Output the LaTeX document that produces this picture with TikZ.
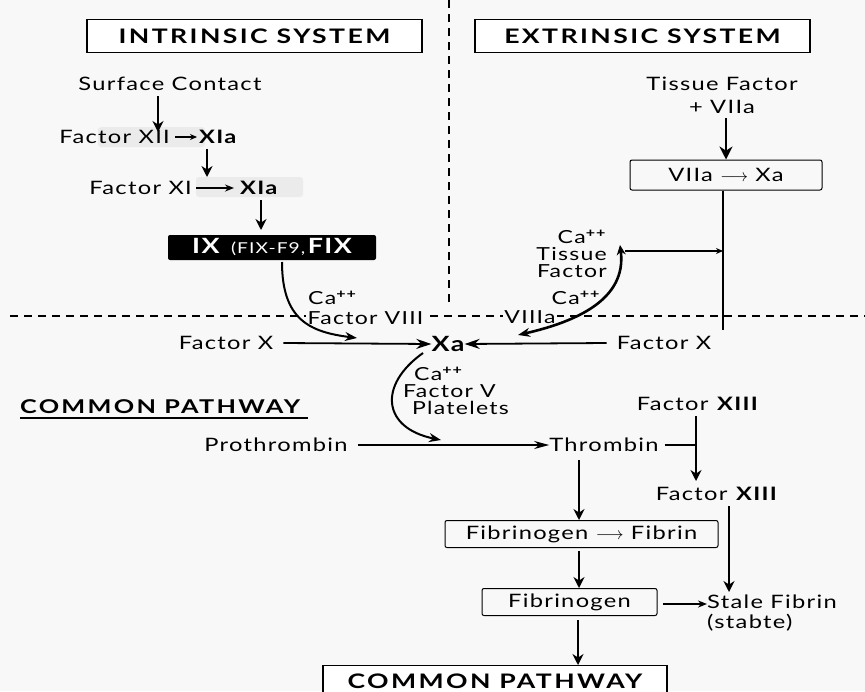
\documentclass[tikz,border=0pt]{standalone}
\usepackage{fontspec}
\setmainfont{Lato}[FakeStretch=1.28, LetterSpace=7]
\newfontfamily\ttlf{Lato}[FakeStretch=1.33, LetterSpace=12]
\usetikzlibrary{arrows.meta}
\newcommand{\capp}{Ca\textsuperscript{\textbf{++}}}
\begin{document}
\begin{tikzpicture}[x=1pt,y=-1pt,
  lbl/.style={inner sep=0pt, font=\fontsize{18.5}{20}\selectfont},
  sml/.style={inner sep=0pt, font=\fontsize{18}{17}\selectfont},
  ttl/.style={draw, line width=1.1pt, minimum width=335pt, minimum height=33pt, inner sep=0pt, font=\fontsize{20}{23}\ttlf\bfseries},
  boxn/.style={draw, line width=1pt, rounded corners=2pt, inner sep=0pt, font=\fontsize{18.5}{20}\selectfont},
  arr/.style={-{Stealth[length=11pt,width=11pt]}, line width=2.1pt},
  arrs/.style={-{Stealth[length=7pt,width=6pt]}, line width=1.3pt},
  harr/.style={-{Stealth[length=15pt,width=10pt]}, line width=1.8pt},
  ln/.style={line width=1.8pt},
  sepline/.style={dashed, dash pattern=on 8pt off 6pt, line width=1.2pt},
  hl/.style={fill=black!8, rounded corners=3pt},
  bgc/.style={fill=bg, inner sep=1.5pt}
]
\definecolor{bg}{HTML}{F8F8F8}
\useasboundingbox (0,0) rectangle (865,691);
\clip (0,0) rectangle (865,691);
\fill[bg] (0,0) rectangle (865,691);

% dashed separators
\coordinate (vd1) at (449,0);
\coordinate (vd2) at (449,305);
\coordinate (hd1) at (10,316);
\coordinate (hd2) at (865,316);
\draw[sepline] (vd1) -- (vd2);
\draw[sepline] (hd1) -- (hd2);

% titles
\node[ttl, fill=white] (intr) at (254.5,36) {INTRINSIC SYSTEM};
\node[ttl, fill=white] (extr) at (642.5,36) {EXTRINSIC SYSTEM};

% intrinsic
\node[lbl] (surf) at (170,84) {Surface Contact};
\fill[hl] (98,127) rectangle (205,147);
\node[lbl, anchor=east] (f12) at (170,137) {Factor XII};
\node[lbl, anchor=west, font=\fontsize{18.5}{20}\selectfont\bfseries] (x1a) at (199,137) {XIa};
\draw[arrs, shorten <=5pt, shorten >=2pt] (f12) -- (x1a);
\fill[hl] (196,177) rectangle (303,197);
\node[lbl, anchor=east] (f11) at (192,188) {Factor XI};
\node[lbl, anchor=west, font=\fontsize{18.5}{20}\selectfont\bfseries] (x1b) at (240,188) {XIa};
\draw[-{Stealth[length=9pt,width=7pt]}, line width=1.6pt, shorten <=4pt, shorten >=6pt] (f11) -- (x1b);
\node[fill=black, text=white, rounded corners=2pt, minimum width=208pt, minimum height=25pt, inner sep=0pt] (ix) at (272,247.5)
  {\fontsize{21}{22}\selectfont\bfseries IX\, \fontsize{15}{17}\selectfont\mdseries (FIX-F9,\,\fontsize{21}{22}\selectfont\bfseries FIX};

\coordinate (s1) at (158,96);
\coordinate (e1) at (158,132);
\draw[arr] (s1) -- (e1);
\coordinate (s2) at (207,149);
\coordinate (e2) at (207,177);
\draw[arr] (s2) -- (e2);
\coordinate (s3) at (261,200);
\coordinate (e3) at (261,230);
\draw[arr] (s3) -- (e3);

\node[sml, anchor=west] (ca1) at (308,298) {\capp};
\node[sml, anchor=west, bgc] (f8) at (306,318) {Factor VIII};

% extrinsic
\node[lbl, align=center, font=\fontsize{18.5}{23}\selectfont] (tf) at (722,95) {Tissue Factor\\+ VIIa};
\node[boxn, minimum width=192pt, minimum height=30pt] (v7) at (726,175) {VIIa $\longrightarrow$ Xa};
\coordinate (s4) at (726,118);
\draw[-{Stealth[length=13pt,width=13pt]}, line width=2.8pt] (s4) -- (v7.north);
\coordinate (vb) at (723,330);
\draw[ln] (v7.south -| vb) -- (vb);

\node[sml, align=right, anchor=east, font=\fontsize{18}{17}\selectfont] (tfl) at (607,254) {\capp\\Tissue\\Factor};
\node[sml, anchor=east] (ca2) at (601,298) {\capp};
\node[sml, bgc] (v8a) at (530,317) {VIIIa};

% common
\node[lbl] (fxl) at (226,343) {Factor X};
\node[lbl, font=\fontsize{21}{23}\selectfont\bfseries] (xa) at (448,344) {Xa};
\node[lbl] (fxr) at (664,343) {Factor X};
\draw[harr] (fxl.east) ++(10,0) -- (xa.west);
\draw[harr] (fxr.west) ++(-10,0) -- (xa.east);

% intrinsic curve into Xa
\coordinate (c1s) at (282,262);
\coordinate (c1e) at (357,338);
\draw[-{Stealth[length=12pt,width=9pt]}, line width=2pt] (c1s) .. controls (282,320) and (310,332) .. (c1e);

% extrinsic curve
\coordinate (c2s) at (620,245);
\coordinate (c2e) at (518,335);
\draw[{Stealth[length=10pt,width=9pt]}-{Stealth[length=12pt,width=9pt]}, line width=2.6pt] (c2s) .. controls (627,300) and (575,322) .. (c2e);
\coordinate (h2s) at (625,251);
\draw[arrs] (h2s) -- (h2s -| vb);

\node[lbl, anchor=west, font=\fontsize{19}{21}\ttlf\bfseries] (cp1) at (20,407) {COMMON PATHWAY};
\coordinate (ul1) at (20,418);
\coordinate (ul2) at (308,418);
\draw[line width=1.2pt] (ul1) -- (ul2);

\node[sml, align=left, anchor=west] (cfp) at (403,391) {\hspace*{11pt}\capp\\Factor V\\\hspace*{9pt}Platelets};

\node[lbl] (pro) at (276,445) {Prothrombin};
\node[lbl] (thr) at (604,445) {Thrombin};
\draw[-{Stealth[length=15pt,width=8pt]}, line width=1.6pt] (pro.east) ++(10,0) -- (thr.west);

\coordinate (c3s) at (423,353);
\coordinate (c3e) at (441,440);
\draw[-{Stealth[length=12pt,width=9pt]}, line width=2pt] (c3s) .. controls (378,385) and (382,428) .. (c3e);

\node[lbl] (f13a) at (698,404) {Factor \textbf{XIII}};
\node[lbl] (f13b) at (717,494) {Factor \textbf{XIII}};
\coordinate (tj) at (696,445);
\draw[line width=1.6pt] (thr.east) ++(6,0) -- (tj);
\coordinate (t13s) at (696,416);
\coordinate (t13e) at (696,481);
\draw[arr] (t13s) -- (t13e);

\node[boxn, minimum width=273pt, minimum height=27pt] (fib1) at (581.5,534) {Fibrinogen $\longrightarrow$ Fibrin};
\node[boxn, minimum width=175pt, minimum height=27pt] (fib2) at (569.5,602) {Fibrinogen};
\node[lbl, anchor=west, align=left, font=\fontsize{18.5}{20}\selectfont] (stf) at (707,613) {Stale Fibrin\\(stabte)};
\coordinate (th1) at (579,460);
\draw[arr] (th1) -- (th1 |- fib1.north);
\coordinate (fa) at (579,551);
\draw[arr] (fa) -- (fa |- fib2.north);
\coordinate (x13s) at (729,506);
\coordinate (x13e) at (729,592);
\draw[arr] (x13s) -- (x13e);
\coordinate (fbs) at (663,604);
\coordinate (fbe) at (707,604);
\draw[-{Stealth[length=9pt,width=7pt]}, line width=1.5pt] (fbs) -- (fbe);

\node[ttl, fill=white, minimum width=344pt, minimum height=40pt, anchor=north] (cp2) at (495,665) {};
\node[lbl, font=\fontsize{20}{23}\ttlf\bfseries] (cp2t) at (495,681) {COMMON PATHWAY};
\coordinate (fb2) at (578,620);
\draw[arr] (fb2) -- (fb2 |- cp2.north);
\end{tikzpicture}
\end{document}
